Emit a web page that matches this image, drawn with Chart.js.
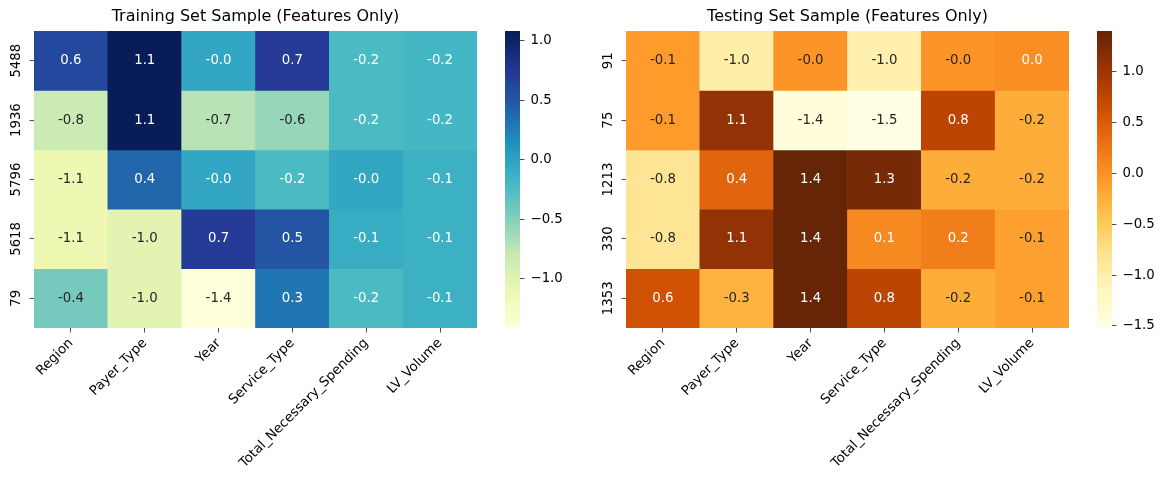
<!DOCTYPE html>
<html>
<head>
<meta charset="utf-8">
<script src="https://cdn.jsdelivr.net/npm/chart.js@4"></script>
<style>
  body { margin: 0; background: #fff; width: 1165px; height: 489px; position: relative; overflow: hidden; }
  canvas { position: absolute; top: 0; }
</style>
</head>
<body>
<canvas id="trainChart" width="490" height="489" style="left:0px"></canvas>
<canvas id="trainBar" width="80" height="489" style="left:500px"></canvas>
<canvas id="testChart" width="490" height="489" style="left:592px"></canvas>
<canvas id="testBar" width="73" height="489" style="left:1092px"></canvas>
<script>
const features = ["Region", "Payer_Type", "Year", "Service_Type", "Total_Necessary_Spending", "LV_Volume"];

const trainRows = ["5488", "1936", "5796", "5618", "79"];
const trainValues = [
  [0.62, 1.084, -0.03, 0.72, -0.22, -0.18],
  [-0.82, 1.08, -0.72, -0.58, -0.22, -0.18],
  [-1.12, 0.42, -0.03, -0.22, -0.04, -0.12],
  [-1.12, -1.02, 0.72, 0.52, -0.08, -0.12],
  [-0.42, -1.02, -1.415, 0.32, -0.22, -0.12]
];
const trainCbTicks = [-1.0, -0.5, 0.0, 0.5, 1.0];

const testRows = ["91", "75", "1213", "330", "1353"];
const testValues = [
  [-0.08, -0.98, -0.02, -1.02, -0.02, 0.04],
  [-0.08, 1.08, -1.42, -1.52, 0.78, -0.22],
  [-0.82, 0.42, 1.40, 1.28, -0.22, -0.22],
  [-0.82, 1.08, 1.39, 0.08, 0.18, -0.12],
  [0.62, -0.28, 1.38, 0.78, -0.22, -0.12]
];
const testCbTicks = [-1.5, -1.0, -0.5, 0.0, 0.5, 1.0];

// colorbrewer stops used by matplotlib
const YlGnBu = ["#ffffd9", "#edf8b1", "#c7e9b4", "#7fcdbb", "#41b6c4", "#1d91c0", "#225ea8", "#253494", "#081d58"];
const YlOrBr = ["#ffffe5", "#fff7bc", "#fee391", "#fec44f", "#fe9929", "#ec7014", "#cc4c02", "#993404", "#662506"];

Chart.defaults.font.family = "'DejaVu Sans', sans-serif";
Chart.defaults.color = "#000";

function hexRgb(h) {
  return [parseInt(h.slice(1, 3), 16), parseInt(h.slice(3, 5), 16), parseInt(h.slice(5, 7), 16)];
}

function cmapRgb(stops, t) {
  t = Math.max(0, Math.min(1, t));
  const i = Math.min(255, Math.floor(t * 256));
  const pos = (i / 255) * (stops.length - 1);
  const k = Math.min(stops.length - 2, Math.floor(pos));
  const f = pos - k;
  const a = hexRgb(stops[k]), b = hexRgb(stops[k + 1]);
  return a.map((c, n) => Math.round(c + (b[n] - c) * f));
}

function rgbStr(c) { return `rgb(${c[0]},${c[1]},${c[2]})`; }

function textColor(c) {
  const lin = c.map(v => {
    v = v / 255;
    return v <= 0.03928 ? v / 12.92 : Math.pow((v + 0.055) / 1.055, 2.4);
  });
  const lum = 0.2126 * lin[0] + 0.7152 * lin[1] + 0.0722 * lin[2];
  return lum > 0.408 ? "#262626" : "#ffffff";
}

function fmtTick(v) {
  return (v < 0 ? "\u2212" : "") + Math.abs(v).toFixed(1);
}

const cellText = {
  id: "cellText",
  afterDatasetsDraw(chart, args, opts) {
    const ctx = chart.ctx;
    ctx.save();
    ctx.font = "13.3px 'DejaVu Sans'";
    ctx.textAlign = "center";
    ctx.textBaseline = "middle";
    chart.data.datasets.forEach((ds, i) => {
      chart.getDatasetMeta(i).data.forEach((bar, j) => {
        const v = opts.values[i][j];
        ctx.fillStyle = textColor(opts.colors[i][j]);
        ctx.fillText(v.toFixed(1), bar.x, (bar.y + bar.base) / 2);
      });
    });
    ctx.restore();
  }
};

function makeHeatmap(id, title, rows, values, stops) {
  const flat = values.flat();
  const vmin = Math.min(...flat), vmax = Math.max(...flat);
  const colors = values.map(r => r.map(v => cmapRgb(stops, (v - vmin) / (vmax - vmin))));
  new Chart(document.getElementById(id), {
    type: "bar",
    data: {
      labels: features,
      datasets: rows.map((r, i) => ({
        label: r,
        data: features.map(() => [i, i + 1]),
        backgroundColor: colors[i].map(rgbStr),
        borderWidth: 0,
        barPercentage: 1,
        categoryPercentage: 1,
        grouped: false
      }))
    },
    options: {
      responsive: false,
      animation: false,
      layout: { padding: { right: 13 } },
      scales: {
        x: {
          grid: { offset: false, drawOnChartArea: false, tickLength: 4.5, color: "#222", lineWidth: 0.8 },
          border: { display: false },
          ticks: { autoSkip: false, minRotation: 45, maxRotation: 45, padding: 3, font: { size: 13.3 } },
          afterFit: s => { s.height = 161; }
        },
        y: {
          min: 0, max: 5, reverse: true,
          grid: { drawOnChartArea: false, tickLength: 4.5, color: "#222", lineWidth: 0.8 },
          border: { display: false },
          afterBuildTicks: s => { s.ticks = rows.map((r, i) => ({ value: i + 0.5 })); },
          ticks: {
            minRotation: 90, maxRotation: 90, crossAlign: "center", padding: -4,
            font: { size: 13.3 },
            callback: v => rows[Math.floor(v)]
          },
          afterFit: s => { s.width = 34; }
        }
      },
      plugins: {
        legend: { display: false },
        tooltip: { enabled: false },
        title: {
          display: true, text: title, fullSize: false,
          font: { size: 16, weight: "normal" }, color: "#000",
          padding: { top: 7, bottom: 4.8 }
        },
        cellText: { values: values, colors: colors }
      }
    },
    plugins: [cellText]
  });
  return [vmin, vmax];
}

function makeColorbar(id, stops, range, ticks, axisWidth) {
  const [vmin, vmax] = range;
  new Chart(document.getElementById(id), {
    type: "bar",
    data: {
      labels: ["cb"],
      datasets: [{
        data: [[vmin, vmax]],
        backgroundColor: ctx => {
          const chart = ctx.chart;
          const y = chart.scales.y;
          if (!chart.chartArea || !y) return "#fff";
          const g = chart.ctx.createLinearGradient(0, y.getPixelForValue(vmin), 0, y.getPixelForValue(vmax));
          for (let k = 0; k <= 64; k++) g.addColorStop(k / 64, rgbStr(cmapRgb(stops, k / 64)));
          return g;
        },
        borderWidth: 0,
        barPercentage: 1,
        categoryPercentage: 1
      }]
    },
    options: {
      responsive: false,
      animation: false,
      layout: { padding: { left: 5, top: 31, bottom: 161 } },
      scales: {
        x: { display: false },
        y: {
          position: "right",
          min: vmin, max: vmax,
          grid: { drawOnChartArea: false, tickLength: 4.5, color: "#222", lineWidth: 0.8 },
          border: { display: false },
          afterBuildTicks: s => { s.ticks = ticks.map(v => ({ value: v })); },
          ticks: { padding: 6, font: { size: 13.3 }, callback: v => fmtTick(v) },
          afterFit: s => { s.width = axisWidth; }
        }
      },
      plugins: { legend: { display: false }, tooltip: { enabled: false } }
    }
  });
}

const trainRange = makeHeatmap("trainChart", "Training Set Sample (Features Only)", trainRows, trainValues, YlGnBu);
makeColorbar("trainBar", YlGnBu, trainRange, trainCbTicks, 60);
const testRange = makeHeatmap("testChart", "Testing Set Sample (Features Only)", testRows, testValues, YlOrBr);
makeColorbar("testBar", YlOrBr, testRange, testCbTicks, 53);
</script>
</body>
</html>
